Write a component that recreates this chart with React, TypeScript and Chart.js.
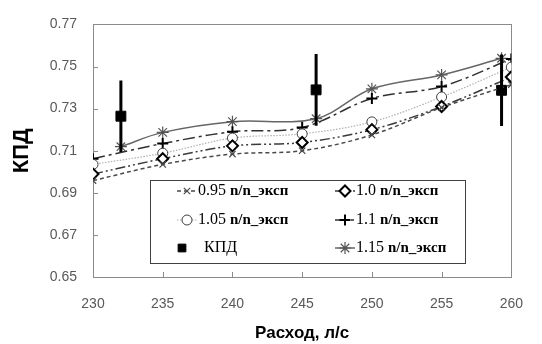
import React, { useEffect, useRef } from 'react';
import { Chart, registerables } from 'chart.js';
import { drawPoint } from 'chart.js/helpers';

Chart.register(...registerables);

// ---- data ----
const flowX = [230, 235, 240, 245, 250, 255, 260];
const flowX115 = [232, 235, 240, 246, 250, 255, 259.3];
const kpdX = [232, 246, 259.3];

const eff095 = [0.6958, 0.7035, 0.7084, 0.7100, 0.7175, 0.7305, 0.7414];
const eff100 = [0.6989, 0.7062, 0.7123, 0.7139, 0.7200, 0.7310, 0.7450];
const eff105 = [0.7035, 0.7088, 0.7160, 0.7180, 0.7237, 0.7355, 0.7497];
const eff110 = [0.7062, 0.7134, 0.7190, 0.7210, 0.7348, 0.7405, 0.7536];
const eff115 = [0.7119, 0.7187, 0.7238, 0.7252, 0.7394, 0.7460, 0.7539];
const kpdVals = [0.7264, 0.7389, 0.7387];
const kpdErr = [0.017, 0.017, 0.017];

const yTicks = [0.65, 0.67, 0.69, 0.71, 0.73, 0.75, 0.77];
const xTicks = [230, 235, 240, 245, 250, 255, 260];

const seriesNums = ['0.95', '1.0', '1.05', '1.1', '', '1.15'];
const seriesSuffix = 'n/n_эксп';
const kpdLabel = 'КПД';
const xTitle = 'Расход, л/с';
const yTitle = 'КПД';

const pts = (xs: number[], ys: number[]) => xs.map((x, i) => ({ x, y: ys[i] }));

const frameTicksPlugin = {
  id: 'frameTicks',
  beforeDatasetsDraw(chart: any) {
    const { ctx, chartArea: a, scales } = chart;
    ctx.save();
    ctx.strokeStyle = '#8a8a8a';
    ctx.lineWidth = 1;
    ctx.strokeRect(Math.round(a.left) + 0.5, Math.round(a.top) + 0.5, Math.round(a.right - a.left), Math.round(a.bottom - a.top));
    ctx.beginPath();
    scales.y.ticks.forEach((t: any) => {
      if (t.value <= 0.65 + 1e-9 || t.value >= 0.77 - 1e-9) return;
      const y = Math.round(scales.y.getPixelForValue(t.value)) + 0.5;
      ctx.moveTo(a.left, y);
      ctx.lineTo(a.left + 5, y);
    });
    scales.x.ticks.forEach((t: any) => {
      if (t.value <= 230 || t.value >= 260) return;
      const x = Math.round(scales.x.getPixelForValue(t.value)) + 0.5;
      ctx.moveTo(x, a.bottom);
      ctx.lineTo(x, a.bottom - 5);
    });
    ctx.stroke();
    ctx.restore();
  },
};

const errorBarPlugin = {
  id: 'errorBars',
  afterDatasetsDraw(chart: any) {
    const { ctx, scales } = chart;
    const meta = chart.getDatasetMeta(4);
    ctx.save();
    ctx.strokeStyle = '#000';
    ctx.lineWidth = 3;
    ctx.beginPath();
    meta.data.forEach((el: any, i: number) => {
      const yTop = scales.y.getPixelForValue(kpdVals[i] + kpdErr[i]);
      const yBot = scales.y.getPixelForValue(kpdVals[i] - kpdErr[i]);
      ctx.moveTo(el.x, yTop);
      ctx.lineTo(el.x, yBot);
    });
    ctx.stroke();
    ctx.restore();
  },
};

const legendPlugin = {
  id: 'customLegend',
  afterDraw(chart: any) {
    const { ctx } = chart;
    const box = { l: 150, t: 180, r: 465, b: 263 };
    ctx.save();
    ctx.fillStyle = '#fff';
    ctx.fillRect(box.l, box.t, box.r - box.l, box.b - box.t);
    ctx.strokeStyle = '#404040';
    ctx.lineWidth = 1;
    ctx.strokeRect(box.l + 0.5, box.t + 0.5, box.r - box.l, box.b - box.t);
    const rows = [191, 220, 248];
    const cols = [187, 345];
    const order = [0, 1, 2, 3, 4, 5];
    order.forEach((di, k) => {
      const ds = chart.data.datasets[di];
      const cx = cols[k % 2];
      const cy = rows[Math.floor(k / 2)];
      const isKpd = di === 4;
      if (!isKpd) {
        ctx.save();
        ctx.strokeStyle = ds.borderColor;
        ctx.lineWidth = ds.borderWidth;
        ctx.setLineDash(ds.borderDash || []);
        ctx.beginPath();
        ctx.moveTo(cx - 10, cy);
        ctx.lineTo(cx + 10, cy);
        ctx.stroke();
        ctx.restore();
      }
      const px = isKpd ? cx - 5 : cx;
      ctx.save();
      ctx.strokeStyle = ds.pointBorderColor;
      ctx.fillStyle = ds.pointBackgroundColor;
      ctx.lineWidth = ds.pointBorderWidth;
      ctx.setLineDash([]);
      drawPoint(ctx, { pointStyle: ds.pointStyle, radius: isKpd ? 5.5 : ds.pointRadius, rotation: 0, borderWidth: ds.pointBorderWidth }, px, cy);
      ctx.restore();
      ctx.fillStyle = '#000';
      ctx.textBaseline = 'middle';
      ctx.textAlign = 'left';
      let tx = isKpd ? cx + 17 : cx + 11;
      if (isKpd) {
        ctx.font = '16px "Liberation Serif"';
        ctx.fillText(kpdLabel, tx, cy);
      } else {
        ctx.font = '16px "Liberation Serif"';
        const num = seriesNums[di] + ' ';
        ctx.fillText(num, tx, cy);
        tx += ctx.measureText(num).width;
        ctx.font = 'bold 15px "Liberation Serif"';
        ctx.fillText(seriesSuffix, tx, cy);
      }
    });
    ctx.restore();
  },
};

export default function App() {
  const ref = useRef<HTMLCanvasElement | null>(null);
  useEffect(() => {
    if (!ref.current) return;
    const chart = new Chart(ref.current, {
      type: 'line',
      data: {
        datasets: [
          {
            label: '0.95 ' + seriesSuffix,
            data: pts(flowX, eff095),
            borderColor: '#4a4a4a',
            borderWidth: 1.5,
            borderDash: [4, 3],
            pointStyle: 'crossRot',
            pointRadius: 4.5,
            pointBorderColor: '#4a4a4a',
            pointBackgroundColor: '#fff',
            pointBorderWidth: 1.2,
            tension: 0.35,
          },
          {
            label: '1.0 ' + seriesSuffix,
            data: pts(flowX, eff100),
            borderColor: '#3a3a3a',
            borderWidth: 1.5,
            borderDash: [10, 3, 2, 3, 2, 3],
            pointStyle: 'rectRot',
            pointRadius: 5.5,
            pointBorderColor: '#000',
            pointBackgroundColor: '#fff',
            pointBorderWidth: 2,
            tension: 0.35,
          },
          {
            label: '1.05 ' + seriesSuffix,
            data: pts(flowX, eff105),
            borderColor: '#b0b0b0',
            borderWidth: 1.2,
            borderDash: [1.5, 1.5],
            pointStyle: 'circle',
            pointRadius: 5,
            pointBorderColor: '#404040',
            pointBackgroundColor: '#fff',
            pointBorderWidth: 1,
            tension: 0.35,
          },
          {
            label: '1.1 ' + seriesSuffix,
            data: pts(flowX, eff110),
            borderColor: '#303030',
            borderWidth: 1.5,
            borderDash: [12, 4, 3, 4],
            pointStyle: 'cross',
            pointRadius: 5.5,
            pointBorderColor: '#000',
            pointBackgroundColor: '#000',
            pointBorderWidth: 2,
            tension: 0.35,
          },
          {
            label: kpdLabel,
            data: pts(kpdX, kpdVals),
            showLine: false,
            borderColor: '#000',
            borderWidth: 0,
            pointStyle: 'rect',
            pointRadius: 7,
            pointBorderColor: '#000',
            pointBackgroundColor: '#000',
            pointBorderWidth: 1,
          },
          {
            label: '1.15 ' + seriesSuffix,
            data: pts(flowX115, eff115),
            borderColor: '#666666',
            borderWidth: 1.5,
            pointStyle: 'star',
            pointRadius: 6,
            pointBorderColor: '#555',
            pointBackgroundColor: '#555',
            pointBorderWidth: 1.2,
            tension: 0.35,
          },
        ],
      },
      options: {
        animation: false,
        responsive: true,
        maintainAspectRatio: false,
        layout: { padding: { left: 0, top: 15, right: 14, bottom: 0 } },
        plugins: { legend: { display: false }, tooltip: { enabled: false } },
        scales: {
          x: {
            type: 'linear',
            min: 230,
            max: 260,
            afterBuildTicks: (s: any) => { s.ticks = xTicks.map((v) => ({ value: v })); },
            afterFit: (s: any) => { s.height = 67; },
            grid: { display: false, drawTicks: false },
            border: { display: false },
            ticks: {
              padding: 19,
              color: '#595959',
              font: { family: '"Liberation Sans"', size: 14 },
              callback: (v: any) => String(v),
            },
            title: {
              display: true,
              text: xTitle,
              color: '#000',
              font: { family: '"Liberation Sans"', size: 17, weight: 'bold' },
              padding: { top: 8, bottom: 0 },
            },
          },
          y: {
            type: 'linear',
            min: 0.65,
            max: 0.77,
            afterBuildTicks: (s: any) => { s.ticks = yTicks.map((v) => ({ value: v })); },
            afterFit: (s: any) => { s.width = 93; },
            grid: { display: false, drawTicks: false },
            border: { display: false },
            ticks: {
              padding: 16,
              color: '#595959',
              font: { family: '"Liberation Sans"', size: 14 },
              callback: (v: any) => Number(v).toFixed(2),
            },
            title: {
              display: true,
              text: yTitle,
              color: '#000',
              font: { family: '"Liberation Sans"', size: 22, weight: 'bold' },
              padding: { top: 9, bottom: 0 },
            },
          },
        },
      },
      plugins: [frameTicksPlugin, errorBarPlugin, legendPlugin],
    } as any);
    return () => chart.destroy();
  }, []);
  return (
    <div style={{ position: 'absolute', left: 0, top: 0, width: 542, height: 344, background: '#fff' }}>
      <canvas ref={ref} />
    </div>
  );
}
